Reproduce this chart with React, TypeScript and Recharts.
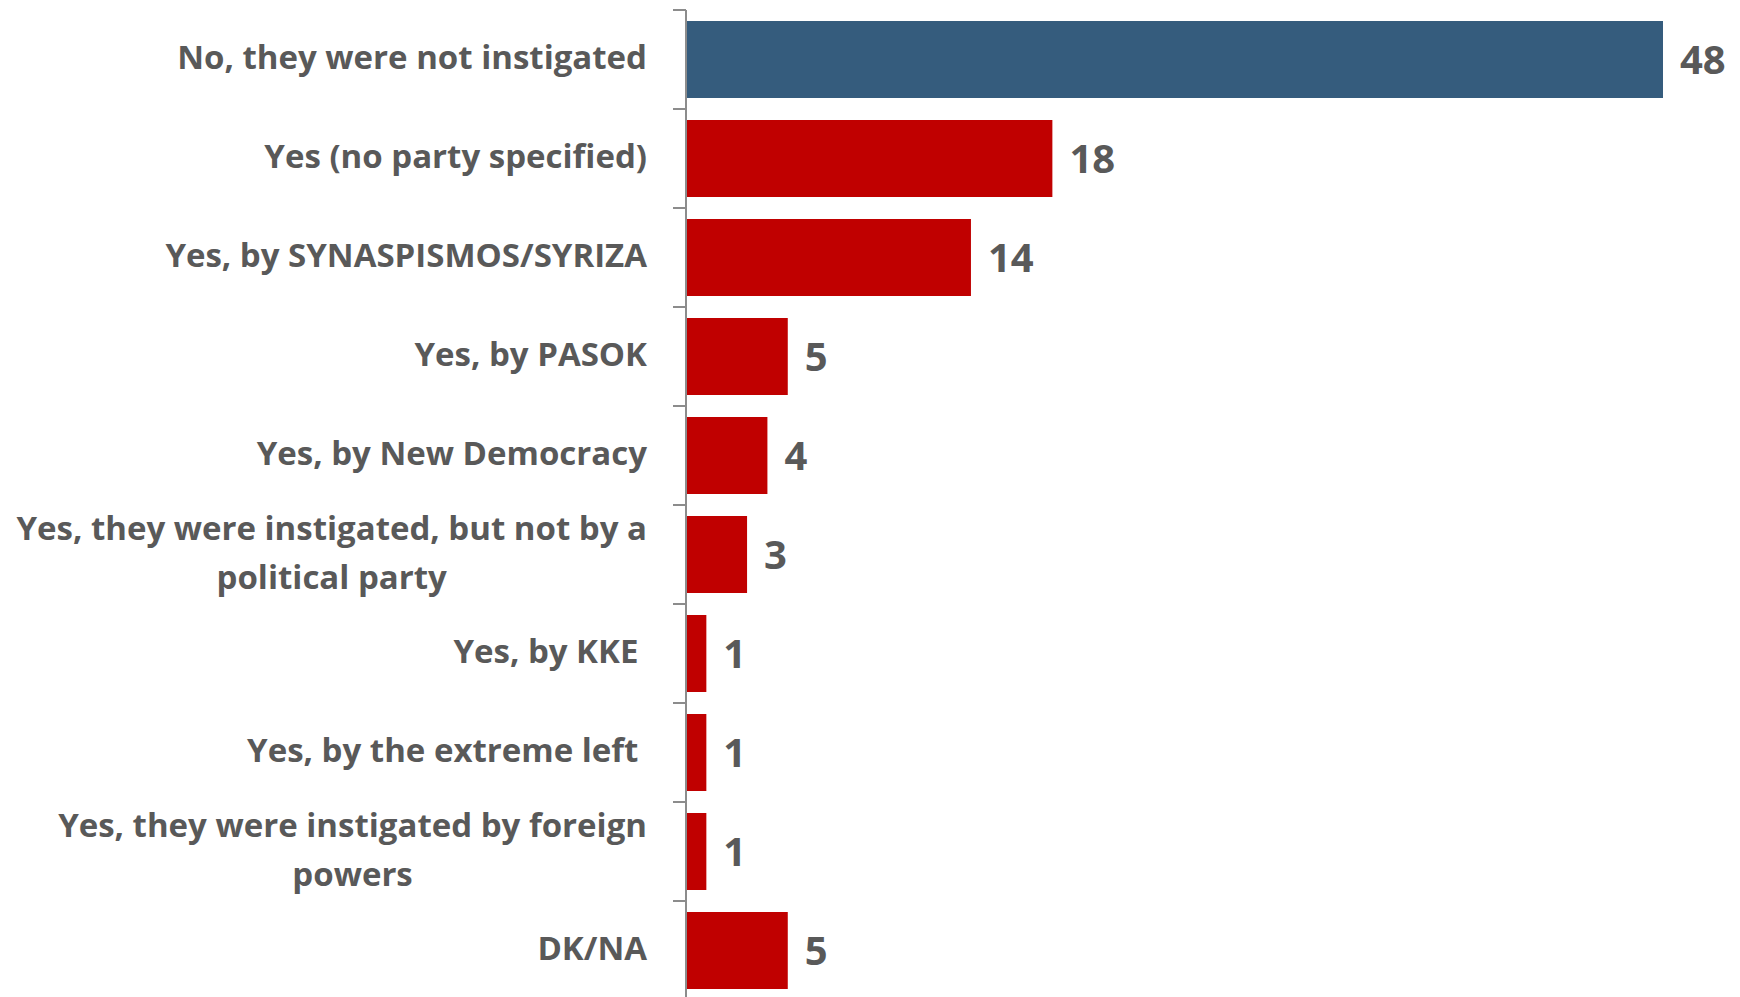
import { BarChart, Bar, XAxis, YAxis, Cell, LabelList } from "recharts";

// survey answers, top to bottom
const categories = [
  "No, they were not instigated",
  "Yes (no party specified)",
  "Yes, by SYNASPISMOS/SYRIZA",
  "Yes, by PASOK",
  "Yes, by New Democracy",
  "Yes, they were instigated, but not by a political party",
  "Yes, by KKE ",
  "Yes, by the extreme left ",
  "Yes, they were instigated by foreign powers",
  "DK/NA",
];
const values = [48, 18, 14, 5, 4, 3, 1, 1, 1, 5];
const highlighted = ["No, they were not instigated"];

const WIDTH = 1740;
const HEIGHT = 1000;
const MARGIN = { top: 10, right: 77, bottom: 0, left: 0 };
const AXIS_W = 686;
const BAND = (HEIGHT - MARGIN.top - MARGIN.bottom) / categories.length;
const TEXT = "#595959";
const LABEL_FONT = "700 33px 'Open Sans'";
const WRAP_AT = 680;

const data = categories.map((name, i) => ({ name, value: values[i] }));

let ctx: CanvasRenderingContext2D | null = null;
function measure(s: string) {
  if (!ctx) ctx = document.createElement("canvas").getContext("2d");
  if (!ctx) return s.length * 17;
  ctx.font = LABEL_FONT;
  return ctx.measureText(s).width;
}

function wrap(label: string) {
  const words = label.split(" ");
  const lines: string[] = [];
  let cur = "";
  for (const w of words) {
    const next = cur ? cur + " " + w : w;
    if (cur && measure(next.trimEnd()) > WRAP_AT) {
      lines.push(cur);
      cur = w;
    } else cur = next;
  }
  lines.push(cur);
  return lines;
}

function CategoryTick(props: any) {
  const { x, y, payload } = props;
  const lines = wrap(payload.value);
  const right = x - 39;
  const top = y - BAND / 2;
  const mid = y - 3;
  const lineH = 49;
  const maxW = Math.max(...lines.map((l) => measure(l.trimEnd())));
  return (
    <g>
      <line x1={x - 13} x2={x} y1={top} y2={top} stroke="#8c8c8c" strokeWidth={2} />
      {lines.length === 1 ? (
        <text
          x={right}
          y={mid}
          textAnchor="end"
          dominantBaseline="central"
          fill={TEXT}
          style={{ font: LABEL_FONT, whiteSpace: "pre" }}
        >
          {lines[0]}
        </text>
      ) : (
        lines.map((l, i) => (
          <text
            key={i}
            x={right - maxW / 2}
            y={mid + (i - (lines.length - 1) / 2) * lineH}
            textAnchor="middle"
            dominantBaseline="central"
            fill={TEXT}
            style={{ font: LABEL_FONT }}
          >
            {l}
          </text>
        ))
      )}
    </g>
  );
}

export default function App() {
  return (
    <div style={{ width: WIDTH, height: 997, overflow: "hidden", position: "absolute", left: 0, top: 0 }}>
      <style>{`html,body{margin:0;overflow:hidden;background:#fff}`}</style>
      <BarChart
        width={WIDTH}
        height={HEIGHT}
        data={data}
        layout="vertical"
        margin={MARGIN}
        barCategoryGap={11}
      >
        <XAxis type="number" domain={[0, 48]} hide />
        <YAxis
          type="category"
          dataKey="name"
          width={AXIS_W}
          tickSize={0}
          tickMargin={0}
          tickLine={false}
          axisLine={{ stroke: "#8c8c8c", strokeWidth: 2 }}
          tick={<CategoryTick />}
          interval={0}
        />
        <Bar dataKey="value" isAnimationActive={false}>
          {data.map((d) => (
            <Cell key={d.name} fill={highlighted.includes(d.name) ? "#355c7d" : "#c00000"} />
          ))}
          <LabelList
            dataKey="value"
            position="right"
            offset={17}
            fill={TEXT}
            style={{ fontFamily: "'Open Sans'", fontWeight: 700, fontSize: 40 }}
          />
        </Bar>
      </BarChart>
    </div>
  );
}
